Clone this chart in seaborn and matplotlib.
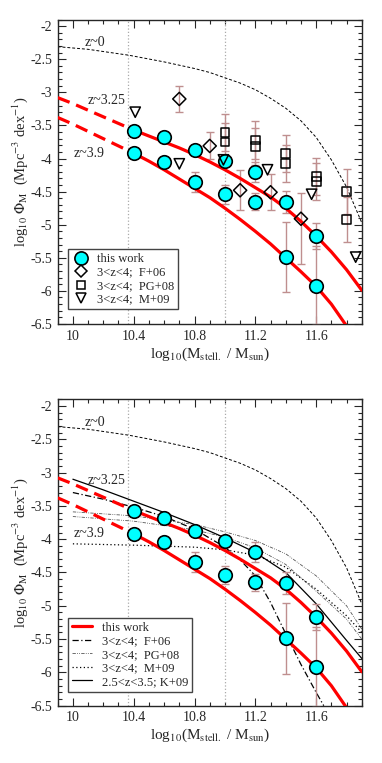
import numpy as np
import matplotlib
matplotlib.use("Agg")
import matplotlib.pyplot as plt
from matplotlib.lines import Line2D
from matplotlib.ticker import MultipleLocator
import seaborn as sns

# measured stellar mass function, this work (two redshift bins)
mass_bins = [10.4, 10.6, 10.8, 11.0, 11.2, 11.4, 11.6]
phi_z325 = [-3.58, -3.68, -3.87, -4.03, -4.20, -4.66, -5.17]
err_z325 = [0.04, 0.04, 0.08, 0.08, 0.15, 0.17, 0.19]
phi_z39 = [-3.92, -4.05, -4.35, -4.54, -4.65, -5.49, -5.92]
err_z39 = [0.04, 0.05, 0.15, 0.14, 0.13, 0.53, 0.60]

# fitted curves, this work
fit_mass = [9.9, 10.0, 10.1, 10.2, 10.3, 10.4, 10.5, 10.6, 10.7, 10.8, 10.9,
            11.0, 11.1, 11.2, 11.3, 11.4, 11.5, 11.6, 11.7, 11.8, 11.9]
fit_z325 = [-3.08, -3.17, -3.27, -3.37, -3.47, -3.57, -3.66, -3.75, -3.84, -3.94, -4.05,
            -4.17, -4.30, -4.44, -4.58, -4.75, -4.95, -5.17, -5.41, -5.68, -5.99]
fit_z39 = [-3.38, -3.48, -3.59, -3.70, -3.81, -3.92, -4.04, -4.17, -4.31, -4.45, -4.59,
           -4.75, -4.92, -5.10, -5.29, -5.50, -5.71, -5.93, -6.20, -6.53, -6.90]
fit_limit = 10.4  # dashed below this mass

# local mass function z~0
z0_mass = [9.9, 10.1, 10.37, 10.6, 10.8, 10.9, 11.0, 11.1, 11.2, 11.3, 11.4,
           11.5, 11.6, 11.7, 11.8, 11.9]
z0_phi = [-2.31, -2.35, -2.44, -2.54, -2.64, -2.70, -2.78, -2.86, -2.96, -3.09, -3.24,
          -3.43, -3.68, -4.02, -4.43, -4.97]

# literature points, 3<z<4
f06_mass = [10.7, 10.9, 11.1, 11.3, 11.5]
f06_phi = [-3.10, -3.81, -4.48, -4.51, -4.91]
f06_err_lo = [0.19, 0.19, 0.30, 0.27, 0.69]
f06_err_hi = [0.20, 0.21, 0.31, 0.27, 0.39]

pg08_mass = [11.0, 11.0, 11.2, 11.2, 11.4, 11.4, 11.6, 11.6, 11.8, 11.8]
pg08_phi = [-3.61, -3.75, -3.72, -3.82, -3.93, -4.08, -4.27, -4.35, -4.50, -4.92]
pg08_err = [0.28, 0.28, 0.28, 0.28, 0.28, 0.28, 0.28, 0.28, 0.34, 0.34]

m09_mass = [10.41, 10.70, 10.99, 11.28, 11.57, 11.86]
m09_phi = [-3.30, -4.08, -4.02, -4.17, -4.54, -5.49]

# literature fits
f06_fit_mass = [10.0, 10.2, 10.4, 10.6, 10.8, 11.0, 11.1, 11.2, 11.3, 11.4, 11.5, 11.6, 11.65]
f06_fit_phi = [-3.30, -3.40, -3.52, -3.66, -3.85, -4.12, -4.31, -4.55, -4.95, -5.42, -5.88, -6.30, -6.50]
pg08_fit_mass = [10.0, 10.4, 10.8, 11.0, 11.2, 11.4, 11.6, 11.8, 11.9]
pg08_fit_a = [-3.59, -3.65, -3.78, -3.89, -4.02, -4.22, -4.55, -5.00, -5.35]
pg08_fit_b = [-3.66, -3.73, -3.86, -3.97, -4.13, -4.38, -4.78, -5.20, -5.50]
m09_fit_mass = [10.0, 10.4, 10.8, 11.0, 11.2, 11.4, 11.6, 11.8, 11.9]
m09_fit_phi = [-4.07, -4.09, -4.12, -4.16, -4.24, -4.42, -4.75, -5.15, -5.40]
k09_fit_mass = [10.0, 10.2, 10.4, 10.6, 10.8, 11.0, 11.2, 11.4, 11.6, 11.8, 11.9]
k09_fit_phi = [-3.10, -3.26, -3.43, -3.60, -3.78, -3.98, -4.20, -4.50, -4.97, -5.52, -5.79]

vlines = [10.36, 11.0]
labels = [("z~0", 10.145, -2.25), ("z~3.25", 10.22, -3.12), ("z~3.9", 10.11, -3.92)]

sns.set_style("ticks")
plt.rcParams["font.family"] = ["Liberation Serif", "DejaVu Serif"]
plt.rcParams["mathtext.fontset"] = "stix"
plt.rcParams["axes.unicode_minus"] = False

ERR_COL = "#bf8f8f"
RED = "#ff0000"


def draw_fits(ax):
	sns.lineplot(x=z0_mass, y=z0_phi, ax=ax, color="black", lw=0.7,
	             linestyle=(0, (3, 2)), sort=False)
	m = np.array(fit_mass)
	lo = m <= fit_limit + 1e-9
	hi = m >= fit_limit - 1e-9
	for vals in (fit_z325, fit_z39):
		v = np.array(vals)
		ax.plot(m[lo], v[lo], color=RED, lw=2.3, dashes=(4, 2.2), zorder=4)
		ax.plot(m[hi], v[hi], color=RED, lw=2.3, zorder=4)


def draw_points(ax):
	for phi, err in ((phi_z325, err_z325), (phi_z39, err_z39)):
		ax.errorbar(mass_bins, phi, yerr=err, fmt="none", ecolor=ERR_COL,
		            elinewidth=1.0, capsize=3, capthick=1.0, zorder=3)
		sns.scatterplot(x=mass_bins, y=phi, ax=ax, marker="o", s=95,
		                color="#00ffff", edgecolor="black", linewidth=1.2, zorder=6)


def style_axes(ax):
	ax.set_xlim(9.9, 11.9)
	ax.set_ylim(-6.5, -1.9)
	ax.xaxis.set_minor_locator(MultipleLocator(0.1))
	ax.yaxis.set_minor_locator(MultipleLocator(0.1))
	ax.set_xticks([10.0, 10.4, 10.8, 11.2, 11.6])
	ax.set_xticklabels(["10", "10.4", "10.8", "11.2", "11.6"])
	ax.set_yticks([-2, -2.5, -3, -3.5, -4, -4.5, -5, -5.5, -6, -6.5])
	ax.set_yticklabels(["-2", "-2.5", "-3", "-3.5", "-4", "-4.5", "-5", "-5.5", "-6", "-6.5"])
	ax.tick_params(which="both", direction="in", top=True, right=True, labelsize=10, width=0.8)
	ax.tick_params(which="major", length=5.5, pad=4)
	ax.tick_params(which="minor", length=2.8)
	for sp in ax.spines.values():
		sp.set_linewidth(1.0)
	for xv in vlines:
		ax.axvline(xv, color="#aaaaaa", lw=0.9, linestyle=":", zorder=1)
	for txt, x, y in labels:
		ax.text(x, y, txt, fontsize=10, ha="center", va="center", zorder=7)
	ax.set_xlabel(r"log$_{10}$(M$_{\rm stell.}$ / M$_{\rm sun}$)", fontsize=11, labelpad=2)
	ax.set_ylabel(r"log$_{10}$ $\Phi_{\rm M}$  (Mpc$^{-3}$ dex$^{-1}$)", fontsize=10.5, labelpad=0.5)


fig = plt.figure(figsize=(3.82, 7.63), dpi=100)
ax1 = fig.add_axes([0.151, 0.5754, 0.796, 0.399])
ax2 = fig.add_axes([0.151, 0.0751, 0.796, 0.4016])

# top panel: points
draw_fits(ax1)
ax1.errorbar(f06_mass, f06_phi, yerr=[f06_err_lo, f06_err_hi], fmt="none", ecolor=ERR_COL,
             elinewidth=1.0, capsize=3, capthick=1.0, zorder=2)
ax1.errorbar(pg08_mass, pg08_phi, yerr=pg08_err, fmt="none", ecolor=ERR_COL,
             elinewidth=1.0, capsize=3, capthick=1.0, zorder=2)
draw_points(ax1)
sns.scatterplot(x=f06_mass, y=f06_phi, ax=ax1, marker="D", s=45, facecolor="none",
                edgecolor="black", linewidth=1.1, zorder=5)
sns.scatterplot(x=pg08_mass, y=pg08_phi, ax=ax1, marker="s", s=40, facecolor="none",
                edgecolor="black", linewidth=1.1, zorder=5)
sns.scatterplot(x=m09_mass, y=m09_phi, ax=ax1, marker="v", s=55, facecolor="none",
                edgecolor="black", linewidth=1.1, zorder=7)
style_axes(ax1)
h1 = [Line2D([], [], marker="o", ls="none", ms=9.5, mfc="#00ffff", mec="black", mew=1.2),
      Line2D([], [], marker="D", ls="none", ms=6.5, mfc="none", mec="black", mew=1.1),
      Line2D([], [], marker="s", ls="none", ms=6, mfc="none", mec="black", mew=1.1),
      Line2D([], [], marker="v", ls="none", ms=7.5, mfc="none", mec="black", mew=1.1)]
leg1 = ax1.legend(h1, ["this work", "3<z<4;  F+06", "3<z<4;  PG+08", "3<z<4;  M+09"],
                  loc="lower left", bbox_to_anchor=(0.035, 0.048), fontsize=9,
                  fancybox=False, framealpha=1, edgecolor="#444444", borderpad=0.3,
                  labelspacing=0.12, handletextpad=0.6, handlelength=1.4, borderaxespad=0)
leg1.get_frame().set_linewidth(1.0)

# bottom panel: fits
draw_fits(ax2)
sns.lineplot(x=f06_fit_mass, y=f06_fit_phi, ax=ax2, color="black", lw=0.9,
             linestyle=(0, (5, 2, 1, 2)), sort=False)
sns.lineplot(x=pg08_fit_mass, y=pg08_fit_a, ax=ax2, color="#555555", lw=0.6,
             linestyle=(0, (4, 1.5, 1, 1.5, 1, 1.5)), sort=False)
sns.lineplot(x=pg08_fit_mass, y=pg08_fit_b, ax=ax2, color="#555555", lw=0.6,
             linestyle=(0, (4, 1.5, 1, 1.5, 1, 1.5)), sort=False)
sns.lineplot(x=m09_fit_mass, y=m09_fit_phi, ax=ax2, color="black", lw=0.9,
             linestyle=(0, (1, 2)), sort=False)
sns.lineplot(x=k09_fit_mass, y=k09_fit_phi, ax=ax2, color="black", lw=0.9, sort=False)
draw_points(ax2)
style_axes(ax2)
h2 = [Line2D([], [], color=RED, lw=2.3),
      Line2D([], [], color="black", lw=0.9, linestyle=(0, (5, 2, 1, 2))),
      Line2D([], [], color="#555555", lw=0.6, linestyle=(0, (4, 1.5, 1, 1.5, 1, 1.5))),
      Line2D([], [], color="black", lw=0.9, linestyle=(0, (1, 2))),
      Line2D([], [], color="black", lw=0.9)]
leg2 = ax2.legend(h2, ["this work", "3<z<4;  F+06", "3<z<4;  PG+08", "3<z<4;  M+09",
                       "2.5<z<3.5; K+09"],
                  loc="lower left", bbox_to_anchor=(0.035, 0.046), fontsize=9,
                  fancybox=False, framealpha=1, edgecolor="#444444", borderpad=0.3,
                  labelspacing=0.12, handletextpad=0.8, handlelength=1.6, borderaxespad=0)
leg2.get_frame().set_linewidth(1.0)

fig.savefig("out.png", dpi=100)
